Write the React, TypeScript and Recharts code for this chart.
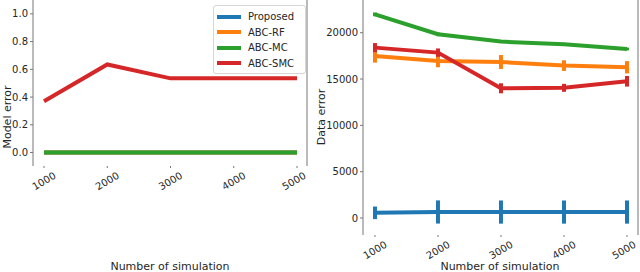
import React from 'react';
import {
  LineChart,
  Line,
  XAxis,
  YAxis,
  ErrorBar,
  ReferenceLine,
  Legend,
} from 'recharts';

const simulations = [1000, 2000, 3000, 4000, 5000];
const seriesNames = ['Proposed', 'ABC-RF', 'ABC-MC', 'ABC-SMC'];
const seriesColors = ['#1f77b4', '#ff7f0e', '#2ca02c', '#d62728'];

// left panel: model error
const modelProposed = [0, 0, 0, 0, 0];
const modelRF = [0, 0, 0, 0, 0];
const modelMC = [0, 0, 0, 0, 0];
const modelSMC = [0.37, 0.635, 0.535, 0.535, 0.535];
const modelTicks = [0, 0.2, 0.4, 0.6, 0.8, 1.0];

// right panel: data error (mean and +/- spread)
const dataProposed = [560, 650, 640, 640, 640];
const dataProposedErr = [680, 1250, 1250, 1250, 1250];
const dataRF = [17490, 16950, 16840, 16450, 16270];
const dataRFErr = [720, 680, 750, 575, 665];
const dataMC = [21980, 19830, 19040, 18750, 18240];
const dataMCErr = [200, 200, 150, 150, 150];
const dataSMC = [18390, 17850, 14000, 14050, 14760];
const dataSMCErr = [490, 450, 540, 430, 575];
const dataTicks = [0, 5000, 10000, 15000, 20000];

const FONT = "'DejaVu Sans', sans-serif";
const TEXT = '#262626';
const SPINE = '#777';

const modelRows = simulations.map((s, i) => ({
  sim: s,
  proposed: modelProposed[i],
  rf: modelRF[i],
  mc: modelMC[i],
  smc: modelSMC[i],
}));

const dataRows = simulations.map((s, i) => ({
  sim: s,
  proposed: dataProposed[i],
  proposedErr: dataProposedErr[i],
  rf: dataRF[i],
  rfErr: dataRFErr[i],
  mc: dataMC[i],
  mcErr: dataMCErr[i],
  smc: dataSMC[i],
  smcErr: dataSMCErr[i],
}));

const keys = ['proposed', 'rf', 'mc', 'smc'];

function RotatedTick({ x, y, payload }: any) {
  return (
    <g transform={`translate(${x},${y + 11}) rotate(-30)`}>
      <text
        x={0}
        y={0}
        textAnchor="middle"
        dominantBaseline="central"
        fontSize={10}
        fontFamily={FONT}
        fill={TEXT}
      >
        {payload.value}
      </text>
    </g>
  );
}

function LegendBox() {
  return (
    <div
      style={{
        width: 88,
        border: '1px solid #d6d6d6',
        borderRadius: 3,
        background: 'rgba(255,255,255,0.9)',
        padding: '3px 0 2px 3px',
        fontFamily: FONT,
        fontSize: 10,
        color: TEXT,
      }}
    >
      {seriesNames.map((name, i) => (
        <div key={name} style={{ display: 'flex', alignItems: 'center', height: 15.5 }}>
          <div style={{ width: 24, height: 4, background: seriesColors[i], marginRight: 7 }} />
          <span>{name}</span>
        </div>
      ))}
    </div>
  );
}

function xLabel(cx: number) {
  return () => (
    <text x={cx} y={266} textAnchor="middle" dominantBaseline="central" fontSize={11} fontFamily={FONT} fill={TEXT}>
      Number of simulation
    </text>
  );
}

function yLabel(x: number, text: string) {
  return () => (
    <text
      x={x}
      y={117}
      transform={`rotate(-90 ${x} 117)`}
      textAnchor="middle"
      dominantBaseline="central"
      fontSize={11}
      fontFamily={FONT}
      fill={TEXT}
    >
      {text}
    </text>
  );
}

const leftXDomain = [826, 5158];
const rightXDomain = [810, 5175];

export default function App() {
  return (
    <div style={{ position: 'fixed', left: 0, top: 0, width: 640, height: 272, background: '#fff' }}>
      <div style={{ position: 'absolute', left: 0, top: 0 }}>
        <LineChart width={310} height={272} data={modelRows} margin={{ top: 0, right: 3, left: 0, bottom: 0 }}>
          <XAxis
            dataKey="sim"
            type="number"
            domain={leftXDomain}
            allowDataOverflow
            ticks={simulations}
            axisLine={false}
            tickLine={{ stroke: SPINE }}
            tickSize={2}
            height={37}
            tick={<RotatedTick />}
            label={xLabel(170)}
          />
          <YAxis
            type="number"
            domain={[-0.097, 1.1]}
            allowDataOverflow
            ticks={modelTicks}
            tickFormatter={(v: number) => v.toFixed(1)}
            width={33}
            axisLine={{ stroke: SPINE }}
            tickLine={{ stroke: SPINE }}
            tickSize={3}
            tickMargin={2}
            tick={{ fontSize: 10, fontFamily: FONT, fill: TEXT }}
            label={yLabel(7, 'Model error')}
          />
          <ReferenceLine x={leftXDomain[1]} stroke={SPINE} />
          {keys.map((k, i) => (
            <Line
              key={k}
              dataKey={k}
              stroke={seriesColors[i]}
              strokeWidth={4}
              dot={false}
              isAnimationActive={false}
            />
          ))}
          <Legend
            content={() => <LegendBox />}
            wrapperStyle={{ position: 'absolute', left: 213, top: 5, width: 92 }}
          />
        </LineChart>
      </div>
      <div style={{ position: 'absolute', left: 310, top: 0 }}>
        <LineChart width={330} height={272} data={dataRows} margin={{ top: 0, right: 2, left: 0, bottom: 0 }}>
          <XAxis
            dataKey="sim"
            type="number"
            domain={rightXDomain}
            allowDataOverflow
            ticks={simulations}
            axisLine={false}
            tickLine={{ stroke: SPINE }}
            tickSize={2}
            height={37}
            tick={<RotatedTick />}
            label={xLabel(190)}
          />
          <YAxis
            type="number"
            domain={[-1835, 23530]}
            allowDataOverflow
            ticks={dataTicks}
            width={53}
            axisLine={{ stroke: SPINE }}
            tickLine={{ stroke: SPINE }}
            tickSize={3}
            tickMargin={2}
            tick={{ fontSize: 10, fontFamily: FONT, fill: TEXT }}
            label={yLabel(11, 'Data error')}
          />
          <ReferenceLine x={rightXDomain[1]} stroke={SPINE} />
          {keys.map((k, i) => (
            <Line
              key={k}
              dataKey={k}
              stroke={seriesColors[i]}
              strokeWidth={4}
              dot={false}
              isAnimationActive={false}
            >
              <ErrorBar
                dataKey={`${k}Err`}
                direction="y"
                width={0}
                stroke={seriesColors[i]}
                strokeWidth={4}
                isAnimationActive={false}
              />
            </Line>
          ))}
        </LineChart>
      </div>
    </div>
  );
}
